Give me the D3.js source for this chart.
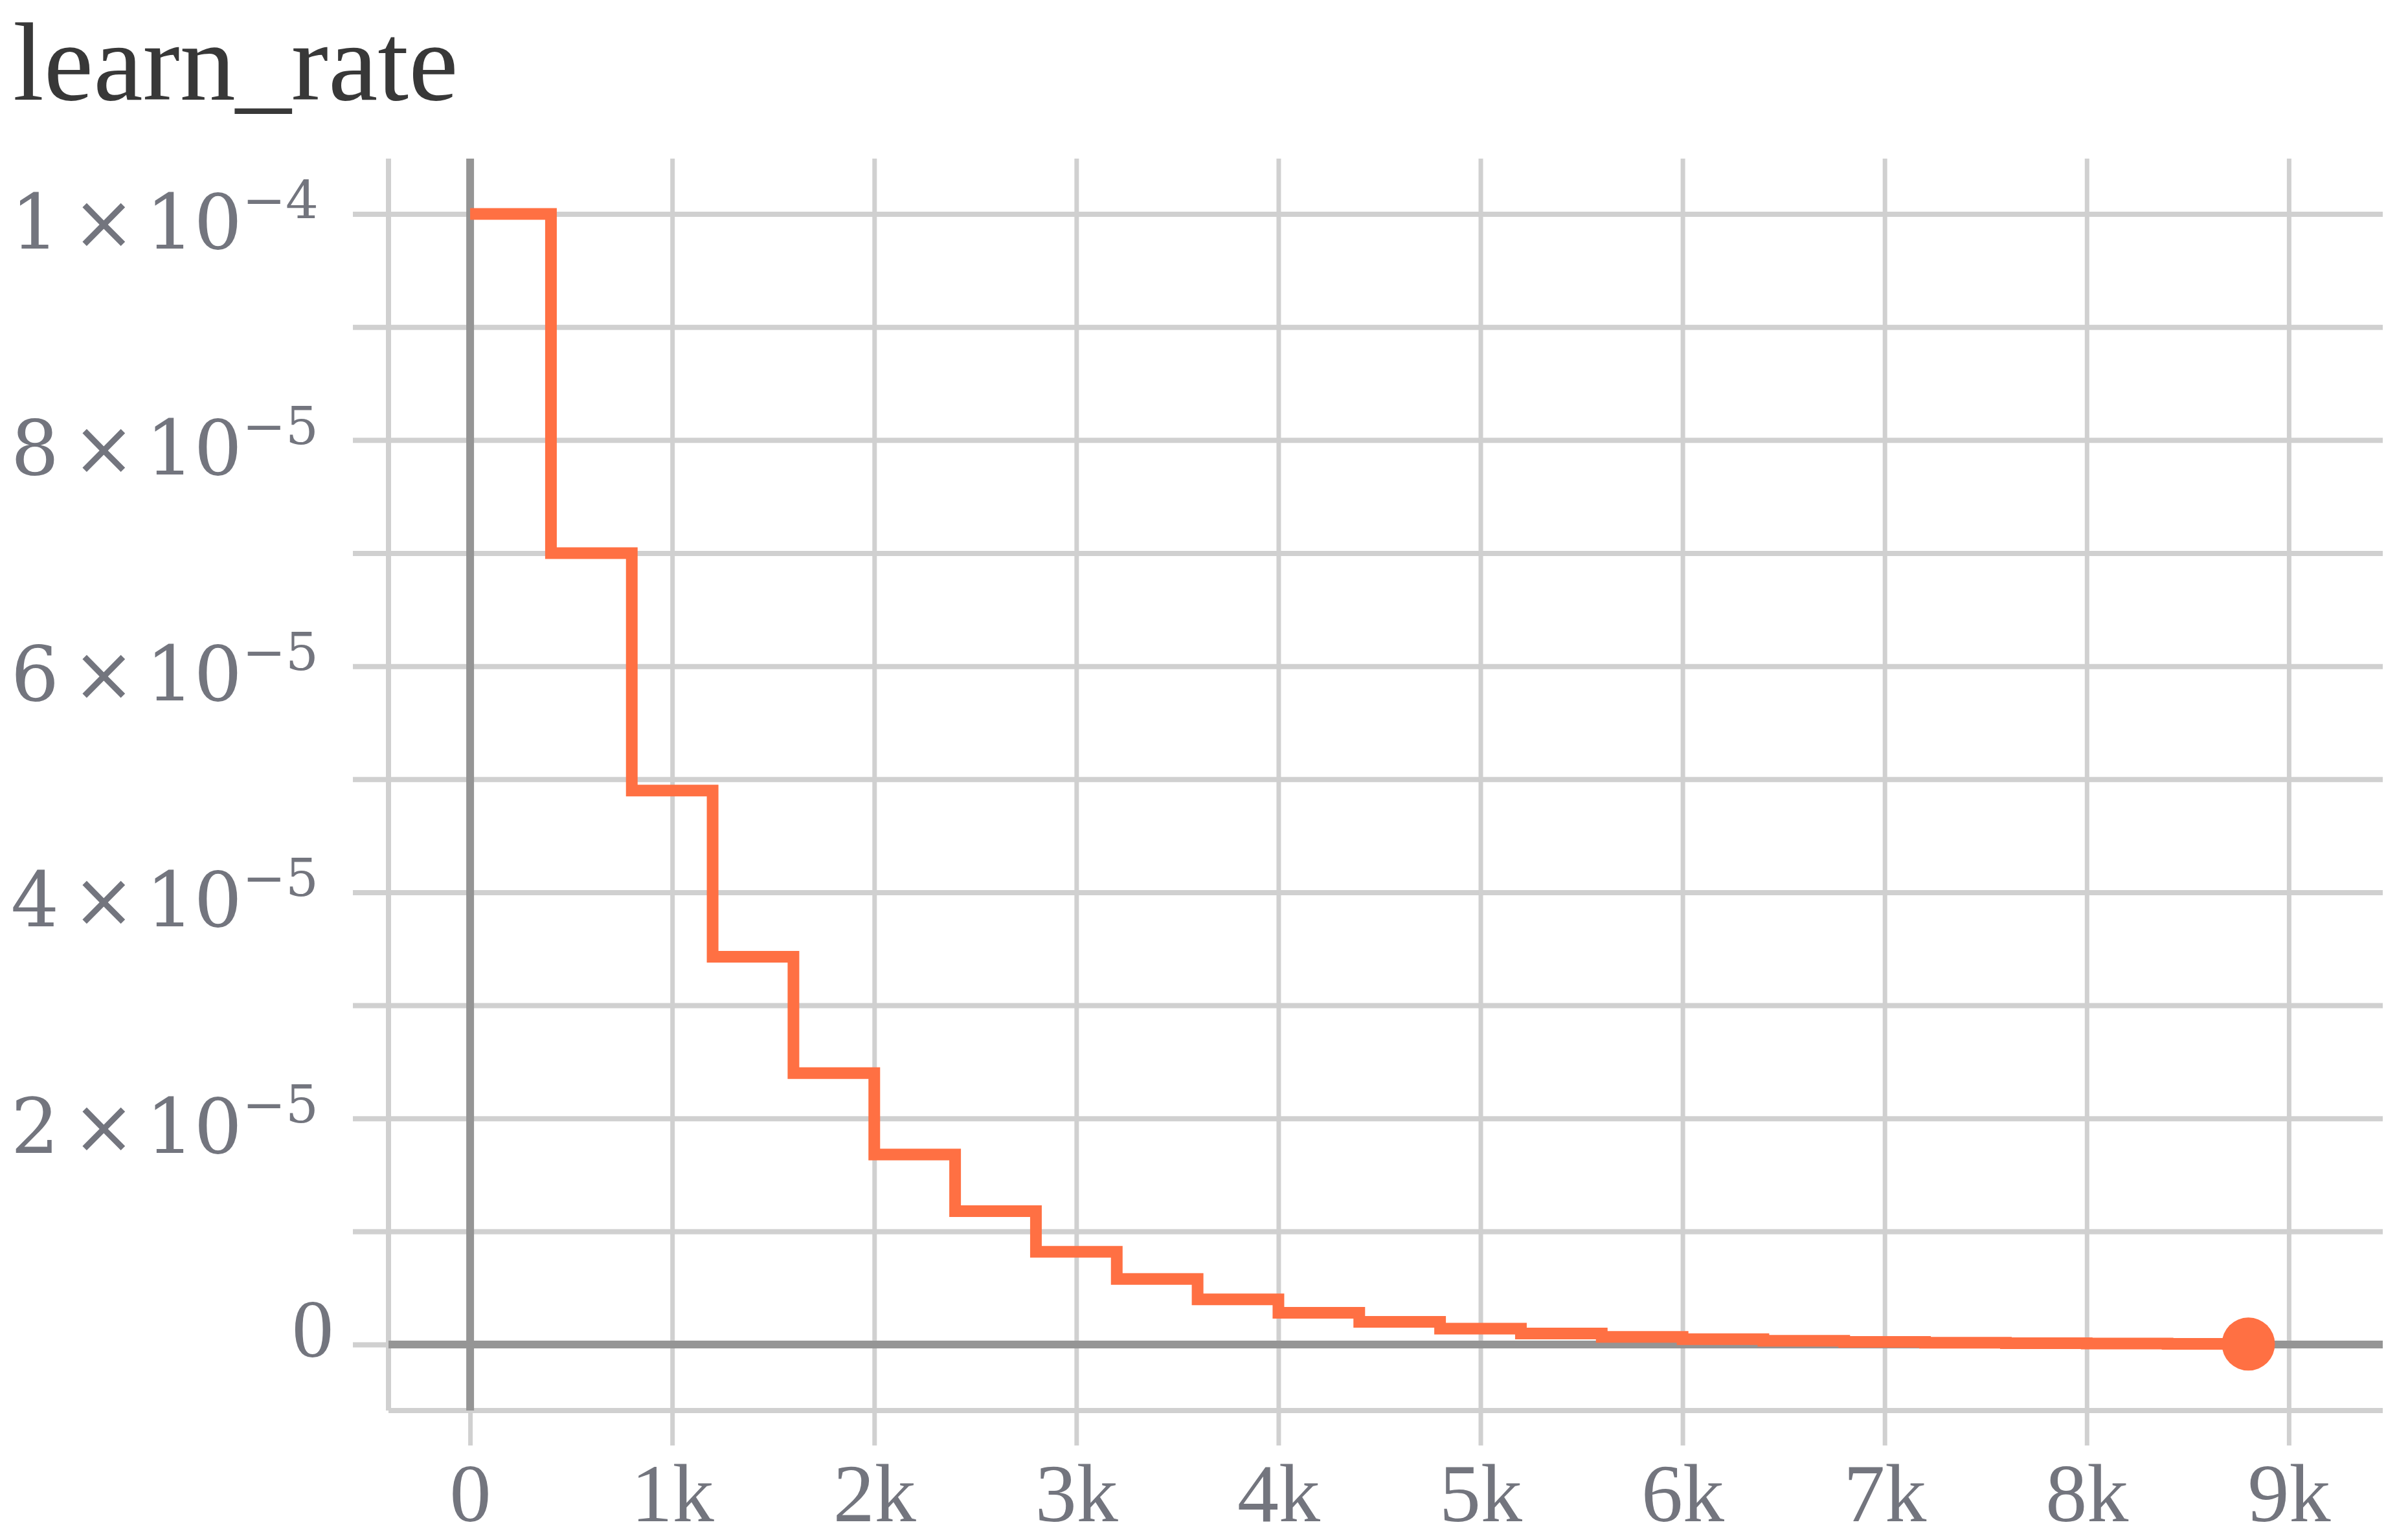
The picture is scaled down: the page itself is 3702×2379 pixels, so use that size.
<!DOCTYPE html>
<html>
<head>
<meta charset="utf-8">
<script src="https://cdn.jsdelivr.net/npm/d3@7"></script>
<style>
  html, body { margin: 0; padding: 0; background: #ffffff; }
  svg { display: block; }
</style>
</head>
<body>
<script>
// ---- data ----
const chartTitle = "learn_rate";
const steps = [0, 400, 800, 1200, 1600, 2000, 2400, 2800, 3200, 3600, 4000, 4400,
               4800, 5200, 5600, 6000, 6400, 6800, 7200, 7600, 8000, 8400, 8800];
const learnRate = [1.0e-4, 7.0e-5, 4.9e-5, 3.43e-5, 2.4e-5, 1.68e-5, 1.18e-5, 8.2e-6,
                   5.8e-6, 4.0e-6, 2.8e-6, 2.0e-6, 1.4e-6, 9.7e-7, 6.8e-7, 4.7e-7,
                   3.3e-7, 2.3e-7, 1.6e-7, 1.1e-7, 8.0e-8, 5.6e-8, 4.0e-8];
const xTickValues = [0, 1000, 2000, 3000, 4000, 5000, 6000, 7000, 8000, 9000];
const xTickLabels = ["0", "1k", "2k", "3k", "4k", "5k", "6k", "7k", "8k", "9k"];
const yGridValues = [0, 1e-5, 2e-5, 3e-5, 4e-5, 5e-5, 6e-5, 7e-5, 8e-5, 9e-5, 1e-4];
const yLabelValues = [0, 2e-5, 4e-5, 6e-5, 8e-5, 1e-4];
const yLabelMantissa = ["0", "2", "4", "6", "8", "1"];
const yLabelExponent = ["", "\u22125", "\u22125", "\u22125", "\u22125", "\u22124"];

// ---- layout ----
const W = 3702, H = 2379;
const plotLeft = 600, plotRight = 3680, plotTop = 245, plotBottom = 2179;
const gridLeftExt = 545, gridBottomExt = 2233;

const x = d3.scaleLinear().domain([-404, 9465]).range([plotLeft, plotRight]);
const y = d3.scaleLinear().domain([-0.584e-5, 10.49e-5]).range([plotBottom, plotTop]);

const lightGrid = "#d0d0d0", darkAxis = "#959595", labelColor = "#73757e";
const serif = "'Liberation Serif', 'Times New Roman', serif";
const mathSerif = "'DejaVu Serif', serif";

const svg = d3.select("body").append("svg")
  .attr("width", W).attr("height", H)
  .style("background", "#fff");

// title
svg.append("text")
  .attr("x", 20).attr("y", 154)
  .attr("font-family", serif)
  .attr("font-size", 172)
  .attr("fill", "#383838")
  .text(chartTitle);

// horizontal grid (y axis ticks)
const yGrid = svg.append("g")
  .attr("transform", `translate(${gridLeftExt},0)`)
  .call(d3.axisLeft(y).tickValues(yGridValues)
        .tickSize(-(plotRight - gridLeftExt)).tickFormat(""));
yGrid.select(".domain").remove();
yGrid.selectAll(".tick line").attr("stroke", lightGrid).attr("stroke-width", 8);

// vertical grid + x labels (x axis)
const xAx = svg.append("g")
  .attr("transform", `translate(0,${gridBottomExt})`)
  .call(d3.axisBottom(x).tickValues(xTickValues)
        .tickSize(-(gridBottomExt - plotTop))
        .tickFormat((d, i) => xTickLabels[i]));
xAx.select(".domain").remove();
xAx.selectAll(".tick line").attr("stroke", lightGrid).attr("stroke-width", 7);
xAx.selectAll(".tick text")
  .attr("y", 117).attr("dy", null)
  .attr("font-family", serif)
  .attr("font-size", 128)
  .attr("fill", labelColor);

// frame (left + bottom)
svg.append("line")
  .attr("x1", x.range()[0]).attr("x2", x.range()[0])
  .attr("y1", y.range()[1]).attr("y2", y.range()[0])
  .attr("stroke", lightGrid).attr("stroke-width", 8);
svg.append("line")
  .attr("x1", x.range()[0]).attr("x2", x.range()[1])
  .attr("y1", y.range()[0]).attr("y2", y.range()[0])
  .attr("stroke", lightGrid).attr("stroke-width", 8);

// zero axes (dark)
svg.append("line")
  .attr("x1", x(0)).attr("x2", x(0))
  .attr("y1", y.range()[1]).attr("y2", y.range()[0])
  .attr("stroke", darkAxis).attr("stroke-width", 12);
svg.append("line")
  .attr("x1", x.range()[0]).attr("x2", x.range()[1])
  .attr("y1", y(0)).attr("y2", y(0))
  .attr("stroke", darkAxis).attr("stroke-width", 12);

// y labels
const yl = svg.append("g")
  .attr("fill", labelColor)
  .attr("text-anchor", "end");
yLabelValues.forEach((v, i) => {
  if (yLabelExponent[i] === "") {
    yl.append("text")
      .attr("x", 515).attr("y", y(v) + 19)
      .attr("font-family", serif)
      .attr("font-size", 128)
      .text(yLabelMantissa[i]);
  } else {
    const t = yl.append("text")
      .attr("x", 492).attr("y", y(v) + 53)
      .attr("font-family", mathSerif)
      .attr("font-size", 117);
    t.append("tspan").text(yLabelMantissa[i]);
    t.append("tspan").attr("dx", 20).text("\u00d7");
    t.append("tspan").attr("dx", 16).text("10");
    t.append("tspan").attr("font-size", 80).attr("dy", -47).text(yLabelExponent[i]);
  }
});

// data line
const series = steps.map((s, i) => ({ step: s, value: learnRate[i] }));
const line = d3.line()
  .x(d => x(d.step))
  .y(d => y(d.value))
  .curve(d3.curveStepAfter);
svg.append("path")
  .datum(series)
  .attr("d", line)
  .attr("fill", "none")
  .attr("stroke", "#ff7043")
  .attr("stroke-width", 18)
  .attr("stroke-linejoin", "miter");

// last point marker
const last = series[series.length - 1];
svg.append("circle")
  .attr("cx", x(last.step)).attr("cy", y(last.value))
  .attr("r", 41)
  .attr("fill", "#ff7043");
</script>
</body>
</html>
